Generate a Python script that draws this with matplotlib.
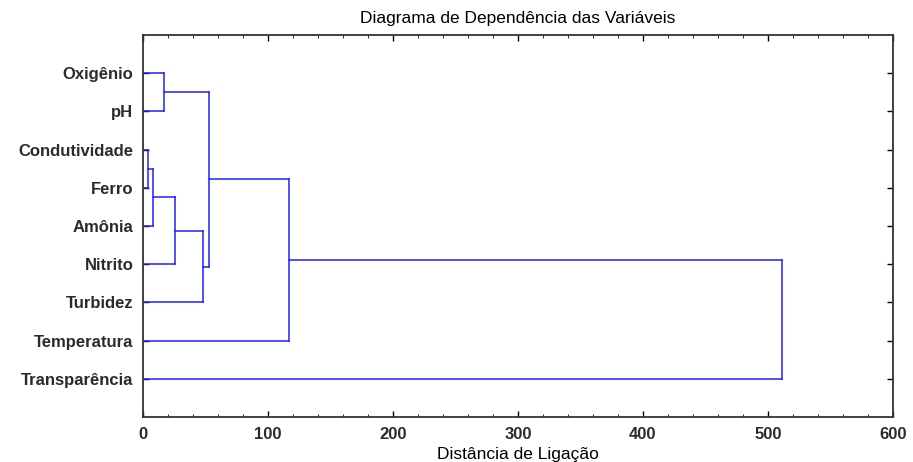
import matplotlib.pyplot as plt
from matplotlib.ticker import MultipleLocator

# folhas de cima para baixo
variaveis = ["Oxigênio", "pH", "Condutividade", "Ferro", "Amônia",
             "Nitrito", "Turbidez", "Temperatura", "Transparência"]
# fusões: (grupo a, grupo b, distância) ; índices >= 9 são grupos novos
fusoes = [(0, 1, 17.0),
          (2, 3, 4.0),
          (10, 4, 7.7),
          (11, 5, 26.0),
          (12, 6, 47.7),
          (9, 13, 52.5),
          (14, 7, 117.0),
          (15, 8, 511.0)]

plt.rcParams['font.family'] = ['Liberation Sans', 'DejaVu Sans']

fig = plt.figure(figsize=(9.13, 4.62), dpi=100)
ax = fig.add_axes([0.1566, 0.0974, 0.8214, 0.8268])

cor = "#1f1fff"
pos = {i: i + 1 for i in range(len(variaveis))}
alt = {i: 0.0 for i in range(len(variaveis))}
for k, (a, b, d) in enumerate(fusoes):
    ya, yb = pos[a], pos[b]
    ax.plot([alt[a], d], [ya, ya], color=cor, lw=1.1)
    ax.plot([alt[b], d], [yb, yb], color=cor, lw=1.1)
    ax.plot([d, d], [ya, yb], color=cor, lw=1.1)
    novo = len(variaveis) + k
    pos[novo] = (ya + yb) / 2
    alt[novo] = d

ax.set_xlim(0, 600)
ax.set_ylim(10, 0)
ax.set_yticks(range(1, len(variaveis) + 1))
ax.set_yticklabels(variaveis, fontsize=12, fontweight='bold', color='#2b2b2b')
ax.xaxis.set_major_locator(MultipleLocator(100))
ax.xaxis.set_minor_locator(MultipleLocator(20))
ax.tick_params(axis='both', which='both', direction='in', top=True, right=True)
ax.tick_params(axis='both', which='major', length=4, width=1)
ax.tick_params(axis='x', which='minor', length=2)
ax.tick_params(axis='x', labelsize=12, pad=7)
ax.tick_params(axis='y', pad=7)
for t in ax.get_xticklabels():
    t.set_fontweight('bold')
    t.set_color('#2b2b2b')
for s in ax.spines.values():
    s.set_linewidth(1.3)
    s.set_color('#333333')

ax.set_title("Diagrama de Dependência das Variáveis", fontsize=12.5, pad=9)
ax.set_xlabel("Distância de Ligação", fontsize=12.5, labelpad=4)

fig.savefig("out.png", dpi=100)
